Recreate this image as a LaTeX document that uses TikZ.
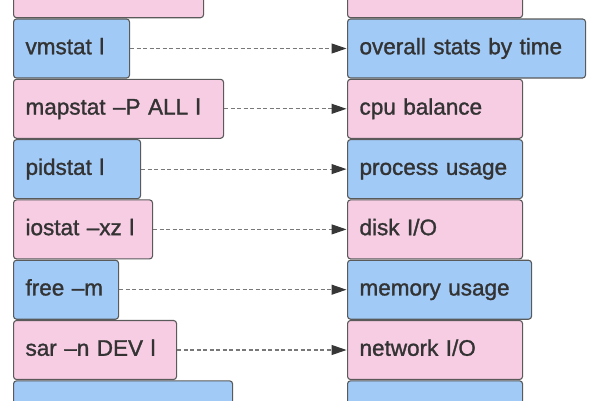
\documentclass[tikz,border=0pt]{standalone}
\usepackage{fontspec}
\setmainfont[FakeBold=1.3]{Liberation Sans}
\usetikzlibrary{arrows.meta}
\definecolor{pinkfill}{RGB}{247,205,228}
\definecolor{bluefill}{RGB}{161,202,247}
\definecolor{edgegray}{RGB}{90,90,90}
\definecolor{txt}{RGB}{51,51,51}
\definecolor{linkgray}{RGB}{120,120,120}
\definecolor{tipgray}{RGB}{55,55,55}
\tikzset{
  box/.style={draw=edgegray, line width=1.1pt, rounded corners=3pt, anchor=west,
    minimum height=59pt, inner xsep=12pt, inner ysep=0pt, align=left,
    text height=16.5pt, text depth=5pt,
    text=txt, font=\fontsize{22.5}{26}\selectfont},
  pinkbox/.style={box, fill=pinkfill},
  bluebox/.style={box, fill=bluefill},
  link/.style={draw=linkgray, line width=1.1pt, dash pattern=on 4pt off 2.5pt,
    -{Triangle[length=15pt,width=10pt,color=tipgray]}, shorten >=0.5pt}
}
\begin{document}
\begin{tikzpicture}[x=1pt,y=-1pt]
\useasboundingbox (0,0) rectangle (600,400);
\clip (0,0) rectangle (600,400);
% left column
\node[pinkbox, text width=166pt] (l0) at (13,-11.8) {};
\node[bluebox, text width=92pt]  (l1) at (13,48.5) {vmstat l};
\node[pinkbox, text width=186pt] (l2) at (13,108.8) {mapstat –P ALL l};
\node[bluebox, text width=103pt] (l3) at (13,169.1) {pidstat l};
\node[pinkbox, text width=115pt] (l4) at (13,229.4) {iostat –xz l};
\node[bluebox, text width=81pt]  (l5) at (13,289.7) {free –m};
\node[pinkbox, text width=139pt] (l6) at (13,350.0) {sar –n DEV l};
\node[bluebox, text width=195pt] (l7) at (13,410.3) {};
% right column
\node[pinkbox, text width=151pt] (r0) at (347,-11.8) {};
\node[bluebox, text width=214pt] (r1) at (347,48.5) {overall stats by time};
\node[pinkbox, text width=151pt] (r2) at (347,108.8) {cpu balance};
\node[bluebox, text width=151pt] (r3) at (347,169.1) {process usage};
\node[pinkbox, text width=151pt] (r4) at (347,229.4) {disk I/O};
\node[bluebox, text width=160pt] (r5) at (347,289.7) {memory usage};
\node[pinkbox, text width=151pt] (r6) at (347,350.0) {network I/O};
\node[bluebox, text width=151pt] (r7) at (347,410.3) {};
% links
\foreach \i in {1,...,6} {
  \draw[link] (l\i.east) -- (r\i.west);
}
\end{tikzpicture}
\end{document}
